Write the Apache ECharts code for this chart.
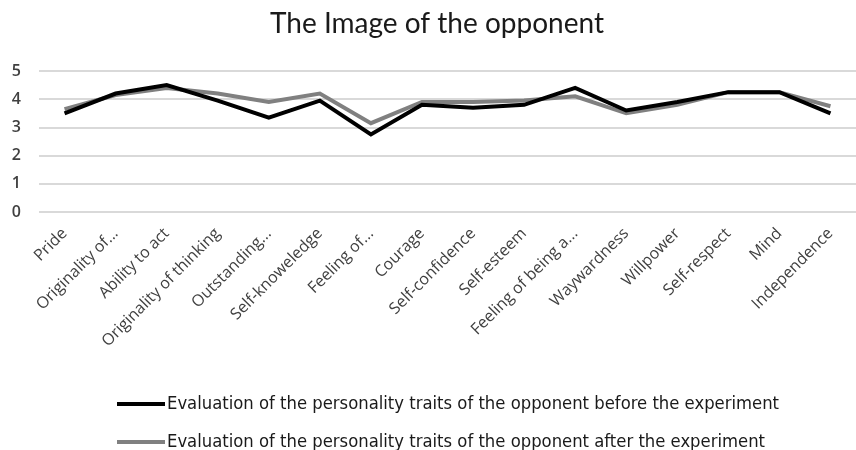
<!DOCTYPE html>
<html>
<head>
<meta charset="utf-8">
<script src="https://cdn.jsdelivr.net/npm/echarts@6/dist/echarts.min.js"></script>
<style>
  html, body { margin: 0; padding: 0; background: #fff; }
  #chart { width: 856px; height: 450px; }
</style>
</head>
<body>
<div id="chart"></div>
<script>
// Personality traits rated for the opponent
const traits = [
  'Pride', 'Originality of...', 'Ability to act', 'Originality of thinking',
  'Outstanding...', 'Self-knoweledge', 'Feeling of...', 'Courage',
  'Self-confidence', 'Self-esteem', 'Feeling of being a...', 'Waywardness',
  'Willpower', 'Self-respect', 'Mind', 'Independence'
];

// Mean ratings before the experiment
const beforeValues = [3.5, 4.2, 4.5, 3.95, 3.35, 3.95, 2.75, 3.8, 3.7, 3.8, 4.4, 3.6, 3.9, 4.25, 4.25, 3.5];

// Mean ratings after the experiment
const afterValues = [3.65, 4.15, 4.4, 4.2, 3.9, 4.2, 3.15, 3.9, 3.9, 3.95, 4.1, 3.5, 3.8, 4.25, 4.25, 3.75];

const seriesNames = [
  'Evaluation of the personality traits of the opponent before the experiment',
  'Evaluation of the personality traits of the opponent after the experiment'
];

const yTicks = { min: 0, max: 5, interval: 1 };

const legendText = {
  fontFamily: 'DejaVu Sans Condensed',
  fontSize: 18.3,
  color: '#1a1a1a',
  padding: [0, 0, 0, -3]
};

// one legend block per series, stacked under the plot
function legendFor(name, top) {
  return {
    orient: 'vertical',
    left: 112,
    top: top,
    itemWidth: 48,
    itemHeight: 4,
    icon: 'rect',
    textStyle: legendText,
    data: [name]
  };
}

const chart = echarts.init(document.getElementById('chart'), null, { renderer: 'canvas' });

chart.setOption({
  backgroundColor: '#ffffff',
  animation: false,
  title: {
    text: 'The Image of the opponent',
    left: 432,
    textAlign: 'center',
    top: 5,
    textStyle: {
      fontFamily: 'Lato',
      fontSize: 28,
      fontWeight: 'normal',
      color: '#1a1a1a'
    }
  },
  legend: [
    legendFor(seriesNames[0], 390),
    legendFor(seriesNames[1], 428)
  ],
  grid: {
    left: 39,
    right: -12,
    top: 71,
    height: 141,
    containLabel: false
  },
  xAxis: {
    type: 'category',
    data: traits,
    boundaryGap: true,
    axisLine: { show: false },
    axisTick: { show: false },
    axisLabel: {
      rotate: 45,
      interval: 0,
      margin: 19,
      fontFamily: 'Open Sans',
      fontSize: 16,
      color: '#404040'
    }
  },
  yAxis: {
    type: 'value',
    min: yTicks.min,
    max: yTicks.max,
    interval: yTicks.interval,
    axisLine: { show: false },
    axisTick: { show: false },
    axisLabel: {
      margin: 18,
      fontFamily: 'Open Sans',
      fontSize: 16,
      fontWeight: 600,
      color: '#404040'
    },
    splitLine: { lineStyle: { color: '#cccccc', width: 1.5 } }
  },
  series: [
    {
      name: seriesNames[0],
      type: 'line',
      data: beforeValues,
      showSymbol: false,
      symbol: 'none',
      z: 3,
      itemStyle: { color: '#000000' },
      lineStyle: { color: '#000000', width: 4, join: 'miter' }
    },
    {
      name: seriesNames[1],
      type: 'line',
      data: afterValues,
      showSymbol: false,
      symbol: 'none',
      z: 2,
      itemStyle: { color: '#808080' },
      lineStyle: { color: '#808080', width: 4, join: 'miter' }
    }
  ]
});
</script>
</body>
</html>
